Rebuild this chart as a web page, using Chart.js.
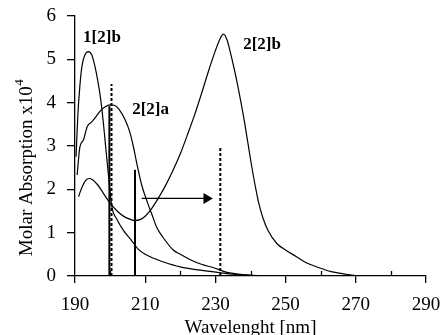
<!DOCTYPE html>
<html><head><meta charset="utf-8">
<script src="https://cdn.jsdelivr.net/npm/chart.js@4.4.1/dist/chart.umd.min.js"></script>
<style>html,body{margin:0;padding:0;background:#fff}</style>
</head><body>
<canvas id="c" width="443" height="335"></canvas>
<script>
// ---- data ----
const wl_1_2b  = [190.3,190.8,191.4,192.0,192.8,193.8,194.8,195.7,196.5,197.2,198.0,198.6,199.2,199.8,200.5,202.0,204.0,206.0,208.0,210.0,212.0,215.0,220.0,225.0,231.0,235.0,240.0];
const abs_1_2b = [2.75,3.7,4.4,4.85,5.1,5.18,5.1,4.83,4.5,4.15,3.6,3.1,2.6,2.1,1.6,1.3,1.03,0.83,0.62,0.5,0.42,0.33,0.21,0.14,0.08,0.04,0.01];

const wl_2_2a  = [190.6,191.4,192.4,193.5,194.7,196.0,197.1,198.5,200.0,201.2,202.5,204.3,205.5,206.6,207.6,209.0,210.4,212.0,213.3,215.0,218.0,220.0,223.0,226.0,229.5,233.0,236.0,240.0,245.0];
const abs_2_2a = [2.33,2.98,3.14,3.45,3.55,3.68,3.8,3.9,3.95,3.94,3.85,3.6,3.35,3.0,2.6,2.1,1.75,1.4,1.12,0.9,0.6,0.5,0.37,0.27,0.19,0.09,0.05,0.02,0.0];

const wl_2_2b  = [191,192,193,194,195,196.5,198,200,202,204,206,207,208.5,210,211.5,213,214.5,216,218,220,222,224,226,228,230,231.3,232.3,233.3,234.3,235.3,236.3,237.3,238.3,239.3,240.3,241.3,242.3,243.5,245,247.5,250,253,256,260,263,266.5,270,275];
const abs_2_2b = [1.83,2.05,2.2,2.25,2.22,2.1,1.92,1.68,1.5,1.37,1.3,1.28,1.3,1.38,1.52,1.7,1.9,2.12,2.45,2.82,3.25,3.7,4.2,4.72,5.2,5.47,5.58,5.45,5.15,4.8,4.42,4.0,3.55,3.05,2.55,2.1,1.7,1.35,1.05,0.75,0.6,0.45,0.3,0.18,0.1,0.05,0.01,0.0];

const solidStickWl  = [199.8, 207.1];
const solidStickAbs = [3.92, 2.45];
const dottedStickWl  = [200.4, 231.4];
const dottedStickAbs = [4.43, 2.98];

const arrowWl  = [209.0, 227.5];
const arrowAbs = [1.79, 1.79];

const labelTexts = ['1[2]b', '2[2]a', '2[2]b'];
const labelWl    = [192.3, 206.3, 237.9];
const labelAbs   = [5.49, 3.83, 5.33];

const yTitleMain = 'Molar Absorption x10';
const yTitleSup  = '4';
const xTitle     = 'Wavelenght [nm]';

const minorXTicks = [200, 220, 240, 260, 280];

// ---- build ----
const FONT = "'Liberation Serif', 'Times New Roman', serif";
const pts = (xs, ys) => xs.map((x, i) => ({x: x, y: ys[i]}));

const datasets = [];
const curve = (xs, ys) => ({
  data: pts(xs, ys), borderColor: '#000', borderWidth: 1.2, pointRadius: 0,
  fill: false, cubicInterpolationMode: 'monotone'
});
datasets.push(curve(wl_1_2b, abs_1_2b));
datasets.push(curve(wl_2_2a, abs_2_2a));
datasets.push(curve(wl_2_2b, abs_2_2b));

solidStickWl.forEach((w, i) => datasets.push({
  data: [{x: w, y: 0}, {x: w, y: solidStickAbs[i]}],
  borderColor: '#000', borderWidth: 2, pointRadius: 0, tension: 0
}));
dottedStickWl.forEach((w, i) => datasets.push({
  data: [{x: w, y: 0}, {x: w, y: dottedStickAbs[i]}],
  borderColor: '#000', borderWidth: 2, borderDash: [3, 2], pointRadius: 0, tension: 0
}));
datasets.push({
  data: pts(arrowWl, arrowAbs), borderColor: '#000', borderWidth: 1.3,
  pointRadius: [0, 5], pointStyle: 'triangle', rotation: 90,
  pointBackgroundColor: '#000', pointBorderColor: '#000', tension: 0
});

const zeroPad = s => { s.paddingTop = 0; s.paddingBottom = 0; s.paddingLeft = 0; s.paddingRight = 0; };

const extras = {
  id: 'extras',
  afterDatasetsDraw(chart) {
    const ctx = chart.ctx, xs = chart.scales.x, ys = chart.scales.y;
    ctx.save();
    // minor inward ticks on the x axis
    ctx.strokeStyle = '#000'; ctx.lineWidth = 1.3;
    const y0 = ys.getPixelForValue(0);
    minorXTicks.forEach(v => {
      const px = Math.round(xs.getPixelForValue(v)) + 0.5;
      ctx.beginPath(); ctx.moveTo(px, y0); ctx.lineTo(px, y0 - 5); ctx.stroke();
    });
    // curve labels
    ctx.fillStyle = '#000';
    ctx.font = "bold 17px " + FONT;
    ctx.textAlign = 'left'; ctx.textBaseline = 'middle';
    labelTexts.forEach((t, i) => {
      ctx.fillText(t, xs.getPixelForValue(labelWl[i]), ys.getPixelForValue(labelAbs[i]));
    });
    // y axis title with superscript
    ctx.translate(27, 168);
    ctx.rotate(-Math.PI / 2);
    ctx.font = "19px " + FONT;
    const w1 = ctx.measureText(yTitleMain).width;
    ctx.font = "13px " + FONT;
    const w2 = ctx.measureText(yTitleSup).width;
    const start = -(w1 + w2) / 2;
    ctx.textAlign = 'left'; ctx.textBaseline = 'middle';
    ctx.font = "19px " + FONT;
    ctx.fillText(yTitleMain, start, 0);
    ctx.font = "13px " + FONT;
    ctx.fillText(yTitleSup, start + w1 + 0.5, -7);
    ctx.restore();
  }
};

new Chart(document.getElementById('c'), {
  type: 'line',
  data: {datasets: datasets},
  options: {
    responsive: false, animation: false, devicePixelRatio: 1,
    layout: {padding: {top: 16, right: 17, left: 0, bottom: 0}},
    plugins: {legend: {display: false}, tooltip: {enabled: false}},
    scales: {
      x: {
        type: 'linear', min: 190, max: 290,
        afterFit: s => { s.height = 59; zeroPad(s); },
        ticks: {stepSize: 20, color: '#000', font: {family: FONT, size: 19}, padding: 11, maxRotation: 0},
        grid: {drawOnChartArea: false, drawTicks: true, tickLength: 7, color: '#000', lineWidth: 1.3},
        border: {display: true, color: '#000', width: 1.3},
        title: {display: true, text: xTitle, color: '#000',
                font: {family: FONT, size: 19, lineHeight: 0.7}, padding: {top: 0, bottom: 0}}
      },
      y: {
        type: 'linear', min: 0, max: 6,
        afterFit: s => { s.width = 75; zeroPad(s); },
        ticks: {stepSize: 1, color: '#000', font: {family: FONT, size: 19}, padding: 11},
        grid: {drawOnChartArea: false, drawTicks: true, tickLength: 8, color: '#000', lineWidth: 1.3},
        border: {display: true, color: '#000', width: 1.3},
        title: {display: false}
      }
    }
  },
  plugins: [extras]
});
</script>
</body></html>
